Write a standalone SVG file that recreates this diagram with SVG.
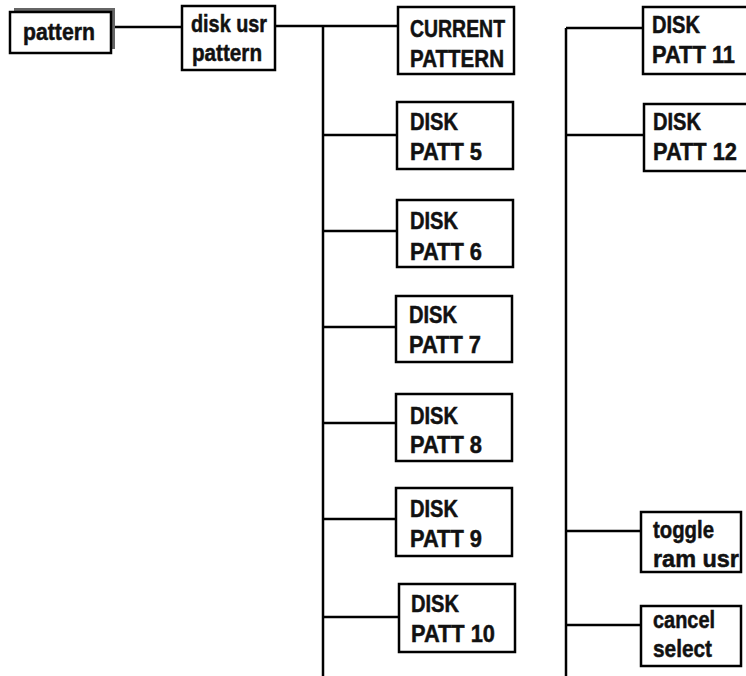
<svg xmlns="http://www.w3.org/2000/svg" width="746" height="676" viewBox="0 0 746 676">
<style>
.box{fill:#fff;stroke:#000;stroke-width:2.5}
.t{font-family:"Liberation Sans",Arial,sans-serif;font-weight:bold;font-size:24px;fill:#111;stroke:#111;stroke-width:0.5}
.c{fill:none;stroke:#000;stroke-width:2.5}
</style>
<rect width="746" height="676" fill="#fff"/>
<g id="connectors">
<path class="c" d="M112 27H182M275 26H323M323 26V676M323 26H398M323 135H397M323 231H397M323 327H396M323 423H396M323 519H396M323 617H399"/>
<path class="c" d="M566 28V676M566 28H643M566 135H644M566 531H641M566 625H641"/>
</g>
<g id="n-pattern">
<rect x="14" y="8" width="101" height="41" fill="#666"/>
<rect class="box" x="10" y="12" width="101" height="41"/>
<text class="t" x="23" y="40" textLength="72" lengthAdjust="spacingAndGlyphs">pattern</text>
</g>
<g id="n-diskusr">
<rect class="box" x="182" y="6" width="93" height="64"/>
<text class="t" x="191" y="32" textLength="76" lengthAdjust="spacingAndGlyphs">disk usr</text>
<text class="t" x="192" y="61" textLength="70" lengthAdjust="spacingAndGlyphs">pattern</text>
</g>
<g id="n-current">
<rect class="box" x="398" y="7" width="116" height="67"/>
<text class="t" x="410" y="37" textLength="95" lengthAdjust="spacingAndGlyphs">CURRENT</text>
<text class="t" x="410" y="67" textLength="94" lengthAdjust="spacingAndGlyphs">PATTERN</text>
</g>
<g id="n-patt5">
<rect class="box" x="397" y="102" width="116" height="67"/>
<text class="t" x="410" y="130" textLength="48" lengthAdjust="spacingAndGlyphs">DISK</text>
<text class="t" x="410" y="160" textLength="72" lengthAdjust="spacingAndGlyphs">PATT 5</text>
</g>
<g id="n-patt6">
<rect class="box" x="397" y="200" width="116" height="67"/>
<text class="t" x="410" y="229" textLength="48" lengthAdjust="spacingAndGlyphs">DISK</text>
<text class="t" x="410" y="260" textLength="72" lengthAdjust="spacingAndGlyphs">PATT 6</text>
</g>
<g id="n-patt7">
<rect class="box" x="396" y="296" width="116" height="66"/>
<text class="t" x="409" y="323" textLength="48" lengthAdjust="spacingAndGlyphs">DISK</text>
<text class="t" x="409" y="353" textLength="72" lengthAdjust="spacingAndGlyphs">PATT 7</text>
</g>
<g id="n-patt8">
<rect class="box" x="396" y="394" width="116" height="67"/>
<text class="t" x="410" y="424" textLength="48" lengthAdjust="spacingAndGlyphs">DISK</text>
<text class="t" x="410" y="453" textLength="72" lengthAdjust="spacingAndGlyphs">PATT 8</text>
</g>
<g id="n-patt9">
<rect class="box" x="396" y="488" width="116" height="68"/>
<text class="t" x="410" y="517" textLength="48" lengthAdjust="spacingAndGlyphs">DISK</text>
<text class="t" x="410" y="547" textLength="72" lengthAdjust="spacingAndGlyphs">PATT 9</text>
</g>
<g id="n-patt10">
<rect class="box" x="399" y="584" width="116" height="68"/>
<text class="t" x="411" y="612" textLength="48" lengthAdjust="spacingAndGlyphs">DISK</text>
<text class="t" x="411" y="642" textLength="84" lengthAdjust="spacingAndGlyphs">PATT 10</text>
</g>
<g id="n-patt11">
<rect class="box" x="643" y="7" width="110" height="67"/>
<text class="t" x="652" y="33" textLength="48" lengthAdjust="spacingAndGlyphs">DISK</text>
<text class="t" x="652" y="63" textLength="83" lengthAdjust="spacingAndGlyphs">PATT 11</text>
</g>
<g id="n-patt12">
<rect class="box" x="644" y="104" width="110" height="67"/>
<text class="t" x="653" y="130" textLength="48" lengthAdjust="spacingAndGlyphs">DISK</text>
<text class="t" x="653" y="160" textLength="84" lengthAdjust="spacingAndGlyphs">PATT 12</text>
</g>
<g id="n-toggle">
<rect class="box" x="641" y="512" width="100" height="60"/>
<text class="t" x="653" y="538" textLength="61" lengthAdjust="spacingAndGlyphs">toggle</text>
<text class="t" x="653" y="567" textLength="86" lengthAdjust="spacingAndGlyphs">ram usr</text>
</g>
<g id="n-cancel">
<rect class="box" x="641" y="606" width="100" height="60"/>
<text class="t" x="653" y="628" textLength="62" lengthAdjust="spacingAndGlyphs">cancel</text>
<text class="t" x="653" y="657" textLength="59" lengthAdjust="spacingAndGlyphs">select</text>
</g>
</svg>
